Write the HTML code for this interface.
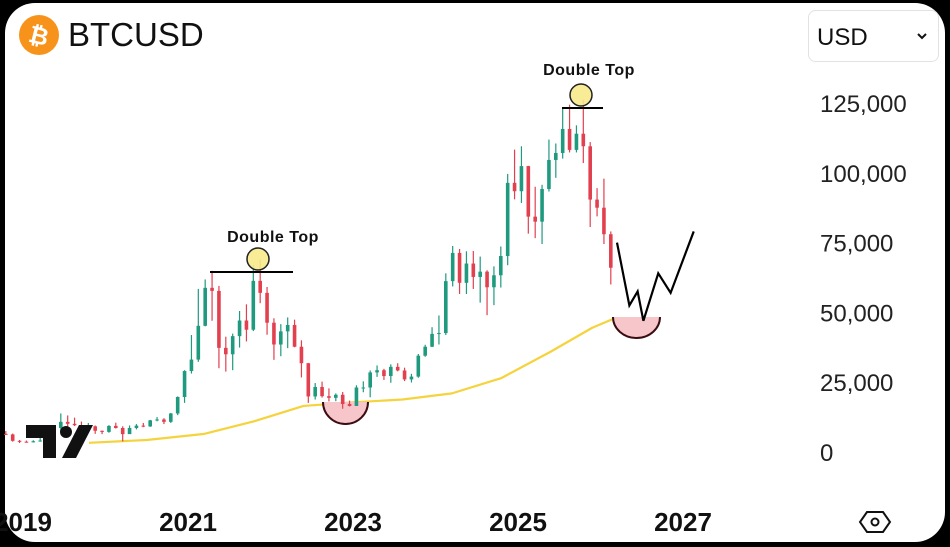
<!DOCTYPE html>
<html><head><meta charset="utf-8"><style>
html,body{margin:0;padding:0;background:#000;width:950px;height:547px;overflow:hidden}
#panel{position:absolute;left:5px;top:3px;width:940px;height:539px;background:#fff;border-radius:30px;overflow:hidden}
svg{position:absolute;left:0;top:0}
text{font-family:"Liberation Sans",sans-serif}
</style></head><body>
<div id="panel"></div>
<svg id="chart" width="950" height="547">
  <g>
    <circle cx="39" cy="35" r="20" fill="#f7931a"/>
    <text x="39" y="44" text-anchor="middle" font-size="24" font-weight="bold" fill="#fff" transform="rotate(14 39 35)">₿</text>
    <text x="68" y="46" font-size="33" fill="#111">BTCUSD</text>
  </g>
  <g>
    <rect x="808.5" y="10.5" width="130" height="51" rx="7" fill="#fff" stroke="#e2e2e2"/>
    <text x="817" y="45" font-size="24" fill="#111">USD</text>
    <path d="M918 34 l4 4 l4 -4" fill="none" stroke="#111" stroke-width="2"/>
  </g>
  <g id="yaxis"></g>
  <g id="xaxis"></g>
  <g id="ma"></g>
  <g id="bowls"></g>
  <g id="candles"></g>
  <g id="annot"></g>
  <g>
    <path d="M26 425 h30 v33 h-13 v-20 h-17z" fill="#111"/>
    <circle cx="66" cy="432" r="6" fill="#111"/>
    <path d="M79 425 h14 l-17 33 h-14z" fill="#111"/>
  </g>
  <g>
    <path d="M867 512 h16 l7 10 l-7 10 h-16 l-7 -10z" fill="none" stroke="#111" stroke-width="2"/>
    <circle cx="875" cy="522" r="3.5" fill="none" stroke="#111" stroke-width="2"/>
  </g>
</svg>
<script>
const NS="http://www.w3.org/2000/svg";
const startYear=2018.75;
const closes=[6300,4000,3700,
3450,3850,4100,5300,8600,10800,10100,9600,8300,9200,7600,7200,
9350,8600,6400,8600,9450,9150,11350,11650,10800,13800,19700,29000,
33100,45200,58800,57700,37300,35000,41500,47100,43800,61300,57000,46300,
38500,43200,45500,37700,31800,19900,23300,20000,19400,20500,17200,16500,
23100,23100,28500,29300,27200,30500,29200,26000,27000,34500,37700,42300,
42600,61200,71300,60600,67500,62700,64600,59000,63300,70200,96400,93400,
102400,84300,82500,94200,104600,107100,115700,108200,114000,109500,90400,87500,
78000,66000];
const highs=[7500,6600,4300,
4100,4200,5500,5600,9000,13800,13100,12300,10900,10400,9500,7700,
9600,10500,9200,9500,10000,10400,11500,12500,12100,14000,19900,29300,
41900,58400,61800,64900,59500,41300,42400,50500,52900,67000,69000,59100,
47900,45800,48200,47400,40000,31900,24700,25200,22800,21000,21500,18400,
23900,25300,29200,31000,29800,31400,31800,30200,28000,35100,38400,44700,
48900,64000,73800,72700,71900,72000,70000,65100,66500,73600,99600,108300,
109500,102500,95000,95700,111900,110500,123200,124400,117000,126200,111000,94500,
97900,79000];
const lows=[6100,3700,3200,
3350,3400,3700,4100,5300,7500,9100,9300,7700,7300,6500,6400,
6900,8400,3800,6500,8100,8900,9000,11000,10000,10400,13200,17600,
28100,32300,45000,47000,30000,28800,29300,37400,39600,43300,53300,42000,
33000,34300,37200,37500,26700,17600,18800,19500,18100,18200,15500,16300,
16500,21400,19600,26900,25800,24800,28900,25400,24900,26600,34100,37600,
38500,41900,59300,56600,56600,58400,53500,49000,52600,58900,66900,90500,
89200,78200,76600,74500,93300,98200,105100,107300,107300,103500,80600,84400,
74500,60000];
const maDates=[2019.8,2020.5,2021.2,2021.8,2022.4,2023.0,2023.6,2024.2,2024.8,2025.4,2025.9,2026.18];
const maValues=[3300,4300,6500,11000,16500,17800,18800,21000,26500,36000,44500,48000];
const projDates=[2026.2,2026.35,2026.45,2026.52,2026.7,2026.85,2027.13];
const projValues=[75000,52500,57500,47000,64000,57000,79000];
const yTicks=[0,25000,50000,75000,100000,125000];
const yTickLabels=["0","25,000","50,000","75,000","100,000","125,000"];
const xTicks=[2019,2021,2023,2025,2027];
const xTickLabels=["2019","2021","2023","2025","2027"];

const X=t=>23+(t-2019)*82.5;
const Y=v=>452-v*0.002792;
function mk(tag,attrs,parent){const e=document.createElementNS(NS,tag);for(const k in attrs)e.setAttribute(k,attrs[k]);parent.appendChild(e);return e;}

const ya=document.getElementById('yaxis');
yTicks.forEach((v,i)=>{const t=mk('text',{x:820,y:Y(v)+9,'font-size':24,fill:'#222'},ya);


t.textContent=yTickLabels[i];});
const xa=document.getElementById('xaxis');
xTicks.forEach((v,i)=>{const t=mk('text',{x:X(v),y:531,'font-size':26,'font-weight':'bold',fill:'#111','text-anchor':'middle'},xa);


t.textContent=xTickLabels[i];});

const cg=document.getElementById('candles');
for(let i=0;i<closes.length;i++){
  const o=i===0?6500:closes[i-1],c=closes[i];
  const cx=X(startYear+(i+0.5)/12);
  const col=c>=o?'#1f9a7e':'#e2404f';
  const w=mk('line',{x1:cx,x2:cx,y1:Y(highs[i]),y2:Y(lows[i]),stroke:col,'stroke-width':1.2},cg);
  
  
  const top=Y(Math.max(o,c)),bot=Y(Math.min(o,c));
  const b=mk('rect',{x:cx-1.8,y:top,width:3.6,height:Math.max(1,bot-top),fill:col},cg);
  
  
}
const mg=document.getElementById('ma');
const mp=mk('path',{d:maDates.map((d,i)=>(i?'L':'M')+X(d)+' '+Y(maValues[i])).join(' '),fill:'none',stroke:'#f5d33c','stroke-width':2.2,'stroke-linejoin':'round'},mg);



const bg=document.getElementById('bowls');
[[323,368,402,424],[613,660,317,338]].forEach(b=>{
  const rx=(b[1]-b[0])/2,ry=b[3]-b[2];
  const f=mk('path',{d:`M${b[0]} ${b[2]} A${rx} ${ry} 0 0 0 ${b[1]} ${b[2]} Z`,fill:'#f7c6cb'},bg);
  
  
  const s=mk('path',{d:`M${b[0]} ${b[2]} A${rx} ${ry} 0 0 0 ${b[1]} ${b[2]}`,fill:'none',stroke:'#3a0d12','stroke-width':2},bg);
  
  
});

const ag=document.getElementById('annot');
const pp=mk('path',{d:projDates.map((d,i)=>(i?'L':'M')+X(d)+' '+Y(projValues[i])).join(' '),fill:'none',stroke:'#000','stroke-width':2.2},ag);


[[210,293,272,258,259,273,242],[562,603,108,581,95,589,75]].forEach(a=>{
  const l=mk('line',{x1:a[0],x2:a[1],y1:a[2],y2:a[2],stroke:'#000','stroke-width':2},ag);
  
  
  const c=mk('circle',{cx:a[3],cy:a[4],r:11,fill:'#f8ea8c',stroke:'#222','stroke-width':1.5,'fill-opacity':0.9},ag);
  
  
  const t=mk('text',{x:a[5],y:a[6],'font-size':16,'font-weight':'bold',fill:'#111','text-anchor':'middle','letter-spacing':'0.5'},ag);
  
  
  t.textContent='Double Top';
});
</script>
</body></html>
